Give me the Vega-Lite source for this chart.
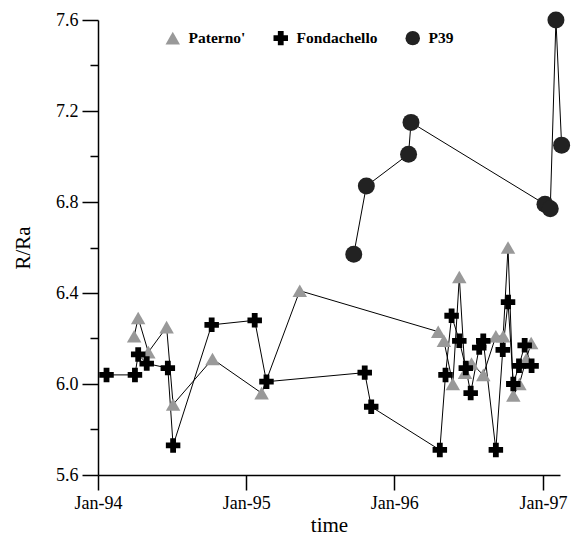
{
  "$schema": "https://vega.github.io/schema/vega-lite/v6.json",
  "width": 462,
  "height": 455,
  "autosize": {"type": "none"},
  "padding": {"left": 98, "top": 20, "right": 11, "bottom": 69},
  "background": "white",
  "config": {
    "view": {"stroke": null},
    "font": "Liberation Serif",
    "axis": {
      "grid": false,
      "domainColor": "black",
      "tickColor": "black",
      "labelColor": "black",
      "titleColor": "black",
      "labelFont": "Liberation Serif",
      "titleFont": "Liberation Serif",
      "titleFontWeight": "normal",
      "labelFontSize": 18,
      "titleFontSize": 21,
      "domainWidth": 1.5,
      "tickWidth": 1.5
    },
    "legend": {
      "orient": "none",
      "legendX": 67,
      "legendY": 10,
      "direction": "horizontal",
      "title": null,
      "labelFont": "Liberation Serif",
      "labelFontWeight": "bold",
      "labelFontSize": 15.5,
      "labelColor": "black",
      "symbolSize": 210,
      "symbolStrokeWidth": 0,
      "columnPadding": 27,
      "labelOffset": 8
    }
  },
  "data": {
    "values": [
      {"series": "Paterno'", "date": "1994-03-31", "R": 6.21},
      {"series": "Paterno'", "date": "1994-04-10", "R": 6.29},
      {"series": "Paterno'", "date": "1994-05-05", "R": 6.14},
      {"series": "Paterno'", "date": "1994-06-19", "R": 6.25},
      {"series": "Paterno'", "date": "1994-07-05", "R": 5.91},
      {"series": "Paterno'", "date": "1994-10-10", "R": 6.11},
      {"series": "Paterno'", "date": "1995-02-08", "R": 5.96},
      {"series": "Paterno'", "date": "1995-05-13", "R": 6.41},
      {"series": "Paterno'", "date": "1996-04-18", "R": 6.23},
      {"series": "Paterno'", "date": "1996-05-02", "R": 6.19},
      {"series": "Paterno'", "date": "1996-05-24", "R": 6.00},
      {"series": "Paterno'", "date": "1996-06-09", "R": 6.47},
      {"series": "Paterno'", "date": "1996-06-23", "R": 6.05},
      {"series": "Paterno'", "date": "1996-07-09", "R": 6.09},
      {"series": "Paterno'", "date": "1996-08-07", "R": 6.04},
      {"series": "Paterno'", "date": "1996-09-07", "R": 6.21},
      {"series": "Paterno'", "date": "1996-09-25", "R": 6.21},
      {"series": "Paterno'", "date": "1996-10-07", "R": 6.60},
      {"series": "Paterno'", "date": "1996-10-20", "R": 5.95},
      {"series": "Paterno'", "date": "1996-11-04", "R": 6.00},
      {"series": "Paterno'", "date": "1996-11-21", "R": 6.11},
      {"series": "Paterno'", "date": "1996-12-03", "R": 6.18},
      {"series": "Fondachello", "date": "1994-01-22", "R": 6.04},
      {"series": "Fondachello", "date": "1994-04-02", "R": 6.04},
      {"series": "Fondachello", "date": "1994-04-10", "R": 6.13},
      {"series": "Fondachello", "date": "1994-05-01", "R": 6.09},
      {"series": "Fondachello", "date": "1994-06-22", "R": 6.07},
      {"series": "Fondachello", "date": "1994-07-05", "R": 5.73},
      {"series": "Fondachello", "date": "1994-10-08", "R": 6.26},
      {"series": "Fondachello", "date": "1995-01-22", "R": 6.28},
      {"series": "Fondachello", "date": "1995-02-20", "R": 6.01},
      {"series": "Fondachello", "date": "1995-10-20", "R": 6.05},
      {"series": "Fondachello", "date": "1995-11-05", "R": 5.90},
      {"series": "Fondachello", "date": "1996-04-22", "R": 5.71},
      {"series": "Fondachello", "date": "1996-05-06", "R": 6.04},
      {"series": "Fondachello", "date": "1996-05-21", "R": 6.30},
      {"series": "Fondachello", "date": "1996-06-09", "R": 6.19},
      {"series": "Fondachello", "date": "1996-06-25", "R": 6.07},
      {"series": "Fondachello", "date": "1996-07-07", "R": 5.96},
      {"series": "Fondachello", "date": "1996-07-28", "R": 6.16},
      {"series": "Fondachello", "date": "1996-08-07", "R": 6.19},
      {"series": "Fondachello", "date": "1996-09-07", "R": 5.71},
      {"series": "Fondachello", "date": "1996-09-24", "R": 6.15},
      {"series": "Fondachello", "date": "1996-10-07", "R": 6.36},
      {"series": "Fondachello", "date": "1996-10-20", "R": 6.00},
      {"series": "Fondachello", "date": "1996-11-03", "R": 6.08},
      {"series": "Fondachello", "date": "1996-11-17", "R": 6.17},
      {"series": "Fondachello", "date": "1996-12-04", "R": 6.08},
      {"series": "P39", "date": "1995-09-23", "R": 6.57},
      {"series": "P39", "date": "1995-10-24", "R": 6.87},
      {"series": "P39", "date": "1996-02-05", "R": 7.01},
      {"series": "P39", "date": "1996-02-11", "R": 7.15},
      {"series": "P39", "date": "1997-01-06", "R": 6.79},
      {"series": "P39", "date": "1997-01-19", "R": 6.77},
      {"series": "P39", "date": "1997-02-02", "R": 7.60},
      {"series": "P39", "date": "1997-02-16", "R": 7.05}
    ]
  },
  "encoding": {
    "x": {
      "field": "date",
      "type": "temporal",
      "scale": {
        "type": "utc",
        "domain": [
          {"year": 1994, "month": 1, "date": 1, "utc": true},
          {"year": 1997, "month": 2, "date": 12, "utc": true}
        ]
      },
      "axis": {
        "values": [
          {"year": 1994, "month": 1, "date": 1, "utc": true},
          {"year": 1995, "month": 1, "date": 1, "utc": true},
          {"year": 1996, "month": 1, "date": 1, "utc": true},
          {"year": 1997, "month": 1, "date": 1, "utc": true}
        ],
        "format": "%b-%y",
        "tickSize": 15,
        "labelPadding": 4,
        "labelFlush": false,
        "labelOverlap": false,
        "title": "time",
        "titlePadding": 2
      }
    },
    "y": {
      "field": "R",
      "type": "quantitative",
      "scale": {"domain": [5.6, 7.6], "nice": false, "zero": false},
      "axis": {
        "values": [5.6, 5.8, 6.0, 6.2, 6.4, 6.6, 6.8, 7.0, 7.2, 7.4, 7.6],
        "labelExpr": "round(datum.value*10) % 4 == 0 ? format(datum.value, '.1f') : ''",
        "tickSize": {"condition": {"test": "round(datum.value*10) % 4 != 0", "value": 8}, "value": 16},
        "labelPadding": 4,
        "labelFlush": false,
        "labelOverlap": false,
        "title": "R/Ra",
        "titlePadding": 22
      }
    }
  },
  "layer": [
    {
      "mark": {"type": "line", "color": "black", "strokeWidth": 1},
      "encoding": {"detail": {"field": "series"}}
    },
    {
      "transform": [{"filter": "datum.series != 'P39'"}],
      "mark": {"type": "point", "filled": true, "opacity": 1, "strokeWidth": 0, "size": 210},
      "encoding": {
        "shape": {
          "field": "series",
          "type": "nominal",
          "scale": {"domain": ["Paterno'", "Fondachello", "P39"], "range": ["triangle-up", "cross", "circle"]}
        },
        "color": {
          "field": "series",
          "type": "nominal",
          "scale": {"domain": ["Paterno'", "Fondachello", "P39"], "range": ["#999999", "#000000", "#222222"]}
        }
      }
    },
    {
      "transform": [{"filter": "datum.series == 'P39'"}],
      "mark": {"type": "point", "filled": true, "opacity": 1, "strokeWidth": 0, "size": 289},
      "encoding": {
        "shape": {
          "field": "series",
          "type": "nominal",
          "scale": {"domain": ["Paterno'", "Fondachello", "P39"], "range": ["triangle-up", "cross", "circle"]}
        },
        "color": {
          "field": "series",
          "type": "nominal",
          "scale": {"domain": ["Paterno'", "Fondachello", "P39"], "range": ["#999999", "#000000", "#222222"]}
        }
      }
    }
  ]
}
